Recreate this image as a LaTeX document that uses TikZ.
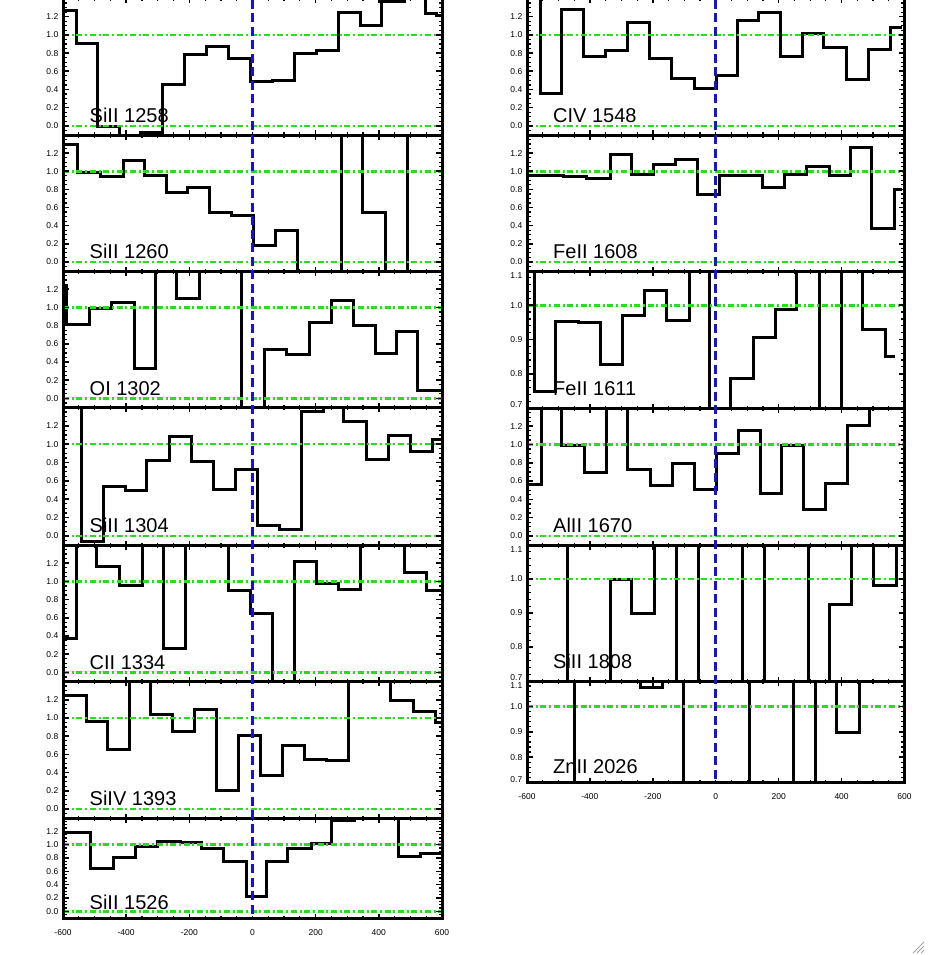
\documentclass[tikz,border=0pt]{standalone}
\usepackage{fontspec}
\setmainfont{Liberation Sans}
\definecolor{grn}{RGB}{40,220,30}
\definecolor{blu}{RGB}{20,20,210}
\newcommand\pnl[9]{%
 \pgfmathsetmacro\sY{(#4-(#3))/(#6-(#5))}%
 \pgfmathsetmacro\sX{(#2-(#1))/1200}%
 \pgfmathsetmacro\xC{(#1+#2)/2}%
 \begin{scope}
  \clip (#1,#3) rectangle (#2,#4);
  \draw[hist] #9;
  \draw[gline] (#1,{#4-(0-(#5))*\sY}) -- (#2,{#4-(0-(#5))*\sY});
  \draw[gline] (#1,{#4-(1-(#5))*\sY}) -- (#2,{#4-(1-(#5))*\sY});
 \end{scope}
 \draw[frame] (#1,#3) rectangle (#2,#4);
 \pgfmathtruncatemacro\nM{round((#6-(#5))/#8)-1}%
 \foreach \k in {1,...,\nM}{%
   \draw[tkm] (#1,{#4-\k*#8*\sY}) -- ++(3.5,0);
   \draw[tkm] (#2,{#4-\k*#8*\sY}) -- ++(-3.5,0);}
 \foreach \v in {#7}{%
   \draw[tkM] (#1,{#4-(\v-(#5))*\sY}) -- ++(6,0);
   \draw[tkM] (#2,{#4-(\v-(#5))*\sY}) -- ++(-6,0);
   \pgfmathsetmacro\off{ifthenelse(abs(\v-(#6))<0.001,5,ifthenelse(abs(\v-(#5))<0.001,-3,0))}
   \node[tl,anchor=east] at (#1-4.5,{#4-(\v-(#5))*\sY+\off}) {\v};}
 \foreach \v in {-550,-500,...,550}{%
   \draw[tkm] ({\xC+\v*\sX},#3) -- ++(0,2.5);
   \draw[tkm] ({\xC+\v*\sX},#4) -- ++(0,-2.5);}
 \foreach \v in {-400,-200,200,400}{%
   \draw[tkM] ({\xC+\v*\sX},#3) -- ++(0,4.5);
   \draw[tkM] ({\xC+\v*\sX},#4) -- ++(0,-4.5);}
}
\begin{document}
\begin{tikzpicture}[x=1pt,y=-1pt,
  frame/.style={line width=3pt},
  hist/.style={line width=3pt, line join=miter},
  gline/.style={grn, line width=2.5pt, dash pattern=on 6pt off 2.7pt on 2pt off 2.7pt},
  bline/.style={blu, line width=2.8pt, dash pattern=on 9pt off 4.5pt},
  tkM/.style={line width=1.6pt}, tkm/.style={line width=1.2pt},
  tl/.style={font=\fontsize{8.5}{9}\selectfont, inner sep=0pt},
  lab/.style={font=\fontsize{20}{22}\selectfont, inner sep=0pt, anchor=base west}]
\useasboundingbox (0,0) rectangle (927,955);
\fill[white] (0,0) rectangle (927,955);

% ---------------- left column ----------------
\pnl{63}{442}{-1.5}{135}{-0.1}{1.4}{0.0,0.2,0.4,0.6,0.8,1.0,1.2}{0.05}{(63,10.7) -| (76,43.3) -| (97.3,127) -| (119.3,135) -| (140,132.5) -| (162.7,85) -| (184.3,55) -| (206.7,46.7) -| (228.7,58.3) -| (250.7,81.7) -| (272.7,81) -| (294.3,53.3) -| (316,51) -| (338.3,12.7) -| (360,25.3) -| (381.7,1.7) -| (404,-31) -| (425.3,13.3) -| (436.7,16) -- (442,16)}
\node[lab] (l1) at (89.5,122.6) {SiII 1258};

\pnl{63}{442}{135}{271}{-0.1}{1.4}{0.0,0.2,0.4,0.6,0.8,1.0,1.2}{0.05}{(63,144) -| (77.7,172.3) -| (100,176) -| (123.3,160) -| (144.3,175) -| (166,192.3) -| (187.7,187.3) -| (209.3,212.7) -| (231,215) -| (253.3,245) -| (275.7,230) -| (297.7,301) -| (341.7,105) -| (362.7,212.3) -| (385.7,301) -| (407.3,105) -- (442,105)}
\node[lab] (l2) at (89.5,258.8) {SiII 1260};

\pnl{63}{442}{271}{407.5}{-0.1}{1.4}{0.0,0.2,0.4,0.6,0.8,1.0,1.2}{0.05}{(63,285) -| (66,324) -| (89.3,308.3) -| (111,302.3) -| (134,368.3) -| (155,241) -| (176.7,298.3) -| (199,241) -| (241.7,437) -| (264.3,349) -| (286.7,354.3) -| (309,322.3) -| (331,300) -| (353.3,325.7) -| (375,353.3) -| (396.7,331.7) -| (417.3,390) -- (442,390)}
\node[lab] (l3) at (89.5,395.2) {OI 1302};

\pnl{63}{442}{407.5}{545}{-0.1}{1.4}{0.0,0.2,0.4,0.6,0.8,1.0,1.2}{0.05}{(63,377.5) -| (81.7,541) -| (103.3,486) -| (125,490) -| (146.7,460) -| (169.3,436.7) -| (191.7,461) -| (213.3,489.3) -| (235,469) -| (257.7,525.7) -| (279,529) -| (301,411.7) -| (323.3,377.5) -| (343.3,421.7) -| (366.7,459) -| (388.3,435.7) -| (410,451.7) -| (432.3,439) -- (442,439)}
\node[lab] (l4) at (89.5,532.6) {SiII 1304};

\pnl{63}{442}{545}{681.5}{-0.1}{1.4}{0.0,0.2,0.4,0.6,0.8,1.0,1.2}{0.05}{(63,638.3) -| (76,515) -| (96.7,566.7) -| (119.3,585) -| (142.3,515) -| (163.3,648.3) -| (185.7,515) -| (228.3,590.7) -| (250,613.3) -| (272.7,711) -| (294.3,561) -| (316.7,583.3) -| (338.3,589.3) -| (360.7,515) -| (404,572.7) -| (426.7,590) -- (442,590)}
\node[lab] (l5) at (89.5,669.2) {CII 1334};

\pnl{63}{442}{681.5}{818}{-0.1}{1.4}{0.0,0.2,0.4,0.6,0.8,1.0,1.2}{0.05}{(63,695) -| (86,721.7) -| (107.7,749.3) -| (129,651.5) -| (150,714.3) -| (172.3,731) -| (194.3,709) -| (216.7,790) -| (238.3,735) -| (260.7,775) -| (282.7,745) -| (304.3,759) -| (326,760) -| (348.3,651.5) -| (390.7,700.7) -| (413.3,711) -| (435,722.7) -- (442,722.7)}
\node[lab] (l6) at (89.5,805.7) {SiIV 1393};

\pnl{63}{442}{818}{918}{-0.1}{1.4}{0.0,0.2,0.4,0.6,0.8,1.0,1.2}{0.05}{(63,832.7) -| (90.7,868.3) -| (113.3,857.3) -| (135.7,846) -| (157.7,841) -| (180,842.3) -| (201.7,848.3) -| (223.3,861.7) -| (246,896.7) -| (266.7,861.7) -| (287.7,848.3) -| (311,843.3) -| (331.7,820.7) -| (354.3,788) -| (398.3,856.7) -| (420.7,853.3) -- (442,853.3)}
\node[lab] (l7) at (89.5,909) {SiII 1526};

\foreach \v in {-600,-400,...,600}{\node[tl] at ({252.5+\v*0.315833},933) {\v};}

% ---------------- right column ----------------
\pnl{527}{904.5}{-1.5}{135}{-0.1}{1.4}{0.0,0.2,0.4,0.6,0.8,1.0,1.2}{0.05}{(527,-31) -| (540,94) -| (561.7,10) -| (583.3,56.7) -| (605,51) -| (627.7,22.3) -| (649.3,58.3) -| (671.7,78.3) -| (694,88.3) -| (716,76) -| (737.7,20.7) -| (758.3,12.3) -| (780.7,56.7) -| (802.7,34) -| (823.3,47.3) -| (846.7,79.3) -| (868.3,49.3) -| (890,27.3) -- (901.7,27.3)}
\node[lab] (r1) at (553,122.6) {CIV 1548};

\pnl{527}{904.5}{135}{271}{-0.1}{1.4}{0.0,0.2,0.4,0.6,0.8,1.0,1.2}{0.05}{(527,175) -| (563.3,176.7) -| (586.7,178.3) -| (610,154) -| (631.7,174.3) -| (653.3,164) -| (675,159.3) -| (697.3,194.3) -| (719.3,175) -| (762.7,187.3) -| (784.3,174) -| (806.7,166.7) -| (829,175) -| (850,147.3) -| (871.7,228.3) -| (894.3,189.3) -- (902,189.3)}
\node[lab] (r2) at (553,258.8) {FeII 1608};

\pnl{527}{904.5}{271}{408}{0.7}{1.1}{0.7,0.8,0.9,1.0,1.1}{0.02}{(527,241) -| (534.3,391) -| (555.7,321.7) -| (578.3,322.3) -| (600,364.3) -| (622.7,315.7) -| (644.3,290.7) -| (666.7,320) -| (689,241) -| (709,438) -| (730.7,378.3) -| (753.3,337.7) -| (775,309) -| (796.7,241) -| (819.3,438) -| (841.7,241) -| (862.7,329) -| (885,356) -- (895,356)}
\node[lab] (r3) at (553,395.7) {FeII 1611};

\pnl{527}{904.5}{408}{545}{-0.1}{1.4}{0.0,0.2,0.4,0.6,0.8,1.0,1.2}{0.05}{(527,484.3) -| (541.7,378) -| (561.7,445) -| (584.3,472.3) -| (606.7,378) -| (627.7,469) -| (650.7,485) -| (672.7,463.3) -| (694,489.3) -| (716.7,453.3) -| (738.3,430) -| (760,493.3) -| (781.7,445) -| (803.3,509.3) -| (825,483.3) -| (847.7,425) -| (869.3,378) -- (905,378)}
\node[lab] (r4) at (553,532.7) {AlII 1670};

\pnl{527}{904.5}{545}{681}{0.7}{1.1}{0.7,0.8,0.9,1.0,1.1}{0.02}{(527,515) -| (567.3,711) -| (610,579.3) -| (631.7,613.3) -| (654.3,515) -| (676,711) -| (698.3,515) -| (742.7,711) -| (764.3,515) -| (808.3,711) -| (829.3,604.3) -| (851.7,515) -| (873.3,585) -| (896,515) -- (905,515)}
\node[lab] (r5) at (553,668.8) {SiII 1808};

\pnl{527}{904.5}{681}{782.5}{0.7}{1.1}{0.7,0.8,0.9,1.0,1.1}{0.02}{(527,812.5) -| (574.3,651) -| (640,687.7) -| (662.3,651) -| (683.3,812.5) -| (749.3,651) -| (793.3,812.5) -| (815,651) -| (836.7,732.3) -| (859,651) -- (905,651)}
\node[lab] (r6) at (553,773.4) {ZnII 2026};

\foreach \v in {-600,-400,...,600}{\node[tl] at ({715.75+\v*0.314583},797) {\v};}

% ---------------- zero-velocity lines ----------------
\coordinate (bl0) at (252.5,0);
\coordinate (bl1) at (252.5,918);
\coordinate (br0) at (715.75,0);
\coordinate (br1) at (715.75,782.5);
\draw[bline] (bl0) -- (bl1);
\draw[bline] (br0) -- (br1);

% ---------------- window grip ----------------
\draw[gray!70, line width=0.8pt] (913,953) -- (924,942) (917,953) -- (924,946) (921,953) -- (924,950);
\end{tikzpicture}
\end{document}
